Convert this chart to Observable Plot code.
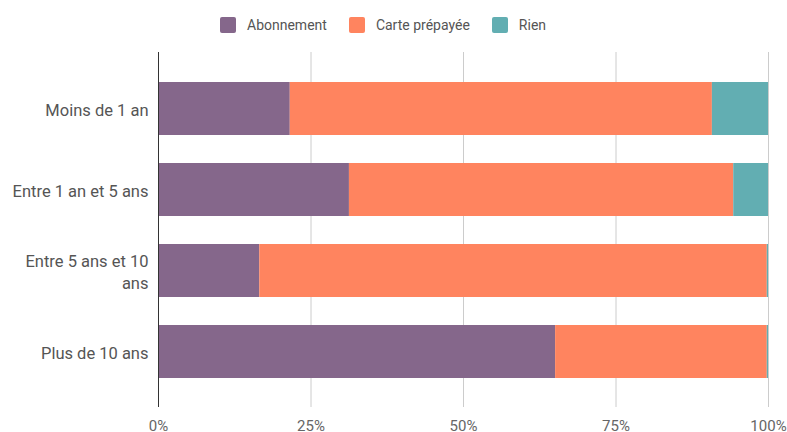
<!DOCTYPE html>
<html>
<head>
<meta charset="utf-8">
<script src="https://cdn.jsdelivr.net/npm/d3@7"></script>
<script src="https://cdn.jsdelivr.net/npm/@observablehq/plot@0.6"></script>
<style>
  html, body { margin: 0; padding: 0; background: #fff; }
  body { width: 787px; height: 432px; overflow: hidden; font-family: Roboto, sans-serif; }
  #legend { height: 44px; display: flex; justify-content: flex-start; align-items: center; padding-left: 220px; box-sizing: border-box; padding-top: 6px; }
  .item { display: flex; align-items: center; font-size: 14px; color: #555; margin-right: 22px; }
  .sw { width: 16px; height: 16px; border-radius: 2px; margin-right: 11px; }
  #chart svg { display: block; }
</style>
</head>
<body>
<div id="legend"></div>
<div id="chart"></div>
<script>
const categories = ["Moins de 1 an", "Entre 1 an et 5 ans", "Entre 5 ans et 10 ans", "Plus de 10 ans"];
const categoryLabels = ["Moins de 1 an", "Entre 1 an et 5 ans", "Entre 5 ans et 10\nans", "Plus de 10 ans"];
const series = ["Abonnement", "Carte prépayée", "Rien"];
const abonnement = [21.6, 31.3, 16.6, 65.1];
const cartePrepayee = [69.2, 63.0, 83.2, 34.7];
const rien = [9.2, 5.7, 0.2, 0.2];
const xTicks = [0, 25, 50, 75, 100];
const colors = ["#85678b", "#ff845f", "#62aeb2"];

const valuesBySeries = [abonnement, cartePrepayee, rien];
const data = [];
series.forEach((s, i) => categories.forEach((c, j) => data.push({category: c, series: s, value: valuesBySeries[i][j]})));
const labelOf = new Map(categories.map((c, i) => [c, categoryLabels[i]]));

const legend = document.getElementById("legend");
series.forEach((s, i) => {
  const it = document.createElement("div");
  it.className = "item";
  it.innerHTML = `<div class="sw" style="background:${colors[i]}"></div><span>${s}</span>`;
  legend.appendChild(it);
});

const chart = Plot.plot({
  width: 787,
  height: 388,
  marginTop: 8,
  marginBottom: 25,
  marginLeft: 158,
  marginRight: 19,
  style: {fontFamily: "Roboto, sans-serif", fontSize: "15px", color: "#666", background: "#fff"},
  x: {domain: [0, 100], ticks: xTicks, label: null},
  y: {domain: categories, padding: 0.35, label: null},
  color: {domain: series, range: colors},
  marks: [
    Plot.ruleX(xTicks.slice(1), {stroke: "#cccccc", strokeWidth: 1}),
    Plot.barX(data, {x: "value", y: "category", fill: "series"}),
    Plot.ruleX([0], {stroke: "#333", strokeWidth: 1}),
    Plot.axisX({ticks: xTicks, tickFormat: d => d + "%", tickSize: 0, tickPadding: 13, fontSize: 15, fill: "#666", label: null}),
    Plot.axisY({tickSize: 0, tickPadding: 10, tickFormat: d => labelOf.get(d), fontSize: 16.5, lineHeight: 1.35, fill: "#555", label: null})
  ]
});
document.getElementById("chart").appendChild(chart);
</script>
</body>
</html>
